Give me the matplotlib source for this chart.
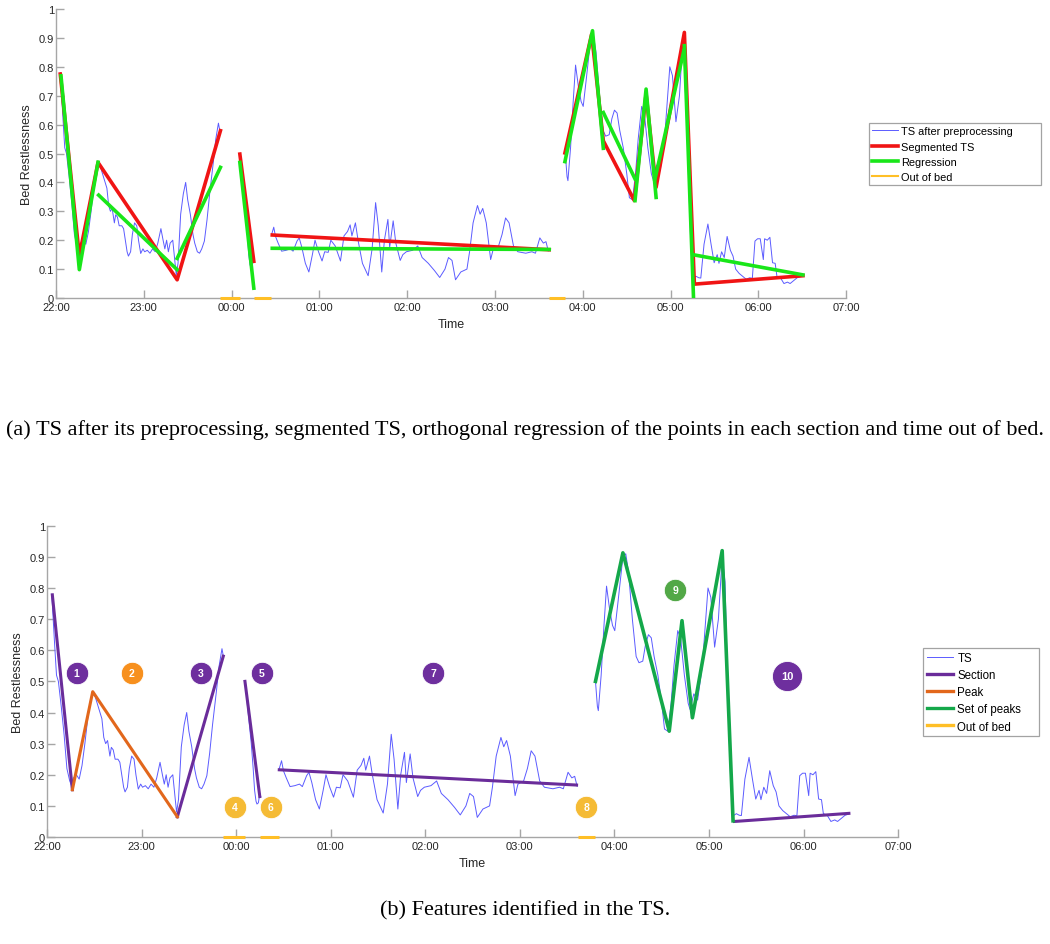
import numpy as np
import matplotlib
matplotlib.use("Agg")
import matplotlib.pyplot as plt
from matplotlib.lines import Line2D

plt.rcParams['font.family'] = ['Liberation Sans', 'DejaVu Sans']

# time axis: hours after 22:00
hour_ticks = [0, 1, 2, 3, 4, 5, 6, 7, 8, 9]
hour_labels = ['22:00', '23:00', '00:00', '01:00', '02:00', '03:00', '04:00', '05:00', '06:00', '07:00']
y_ticks = [0, 0.1, 0.2, 0.3, 0.4, 0.5, 0.6, 0.7, 0.8, 0.9, 1]
y_labels = ['0', '0.1', '0.2', '0.3', '0.4', '0.5', '0.6', '0.7', '0.8', '0.9', '1']

# TS after preprocessing (4 pieces, gaps = out of bed)
ts1_t = [0.05, 0.08, 0.10, 0.12, 0.15, 0.18, 0.21, 0.24, 0.26, 0.28, 0.31, 0.34, 0.37, 0.40, 0.43, 0.46,
         0.48, 0.51, 0.54, 0.58, 0.60, 0.62, 0.64, 0.665, 0.68, 0.70, 0.72, 0.75, 0.77, 0.79, 0.81, 0.825,
         0.85, 0.87, 0.895, 0.92, 0.94, 0.965, 0.99, 1.01, 1.04, 1.07, 1.10, 1.13, 1.16, 1.195, 1.22, 1.24,
         1.26, 1.28, 1.30, 1.33, 1.353, 1.37, 1.39, 1.42, 1.45, 1.477, 1.50, 1.53, 1.56, 1.58, 1.61, 1.635,
         1.66, 1.69, 1.72, 1.75, 1.79, 1.82, 1.85, 1.865]
ts1_v = [0.78, 0.62, 0.52, 0.50, 0.42, 0.33, 0.22, 0.18, 0.165, 0.19, 0.20, 0.186, 0.23, 0.30, 0.38, 0.44,
         0.466, 0.45, 0.42, 0.38, 0.32, 0.30, 0.31, 0.26, 0.288, 0.28, 0.25, 0.25, 0.24, 0.20, 0.16, 0.145,
         0.16, 0.22, 0.26, 0.25, 0.20, 0.154, 0.17, 0.16, 0.165, 0.155, 0.17, 0.16, 0.19, 0.24, 0.20, 0.17,
         0.20, 0.16, 0.19, 0.20, 0.13, 0.08, 0.12, 0.29, 0.36, 0.40, 0.34, 0.29, 0.22, 0.19, 0.16, 0.155,
         0.17, 0.197, 0.27, 0.36, 0.465, 0.55, 0.605, 0.58]
ts2_t = [2.10, 2.12, 2.14, 2.16, 2.18, 2.195, 2.21, 2.22, 2.235, 2.25, 2.26]
ts2_v = [0.49, 0.42, 0.36, 0.30, 0.22, 0.15, 0.115, 0.106, 0.11, 0.14, 0.13]
ts3_t = [2.456, 2.48, 2.50, 2.53, 2.57, 2.62, 2.67, 2.70, 2.745, 2.77, 2.80, 2.84, 2.88, 2.92, 2.95, 2.99,
         3.03, 3.06, 3.10, 3.13, 3.18, 3.24, 3.28, 3.32, 3.35, 3.37, 3.41, 3.44, 3.49, 3.555, 3.60, 3.64,
         3.67, 3.71, 3.74, 3.78, 3.80, 3.84, 3.87, 3.92, 3.95, 3.99, 4.06, 4.12, 4.17, 4.24, 4.31, 4.37,
         4.43, 4.47, 4.51, 4.55, 4.61, 4.68, 4.71, 4.75, 4.80, 4.83, 4.86, 4.90, 4.95, 4.98, 5.04, 5.08,
         5.12, 5.16, 5.21, 5.26, 5.35, 5.42, 5.46, 5.51, 5.55, 5.58, 5.606]
ts3_v = [0.22, 0.245, 0.213, 0.19, 0.162, 0.165, 0.17, 0.162, 0.197, 0.208, 0.175, 0.12, 0.09, 0.15, 0.20, 0.16,
         0.128, 0.16, 0.158, 0.20, 0.18, 0.128, 0.215, 0.23, 0.253, 0.215, 0.26, 0.20, 0.12, 0.077, 0.17, 0.33,
         0.25, 0.09, 0.20, 0.272, 0.175, 0.267, 0.19, 0.13, 0.15, 0.16, 0.165, 0.18, 0.14, 0.12, 0.095, 0.071,
         0.10, 0.14, 0.13, 0.063, 0.09, 0.10, 0.16, 0.26, 0.32, 0.29, 0.31, 0.26, 0.133, 0.17, 0.18, 0.22,
         0.277, 0.26, 0.18, 0.16, 0.155, 0.16, 0.155, 0.208, 0.19, 0.195, 0.163]
ts4_t = [5.80, 5.82, 5.83, 5.86, 5.89, 5.917, 5.95, 5.98, 6.004, 6.04, 6.09, 6.12, 6.15, 6.19, 6.23, 6.26,
         6.30, 6.33, 6.36, 6.39, 6.42, 6.46, 6.50, 6.53, 6.565, 6.60, 6.63, 6.67, 6.70, 6.74, 6.78, 6.80,
         6.84, 6.88, 6.93, 6.99, 7.02, 7.06, 7.10, 7.14, 7.17, 7.20, 7.23, 7.255, 7.29, 7.32, 7.343, 7.38,
         7.424, 7.46, 7.495, 7.53, 7.55, 7.58, 7.61, 7.643, 7.68, 7.71, 7.74, 7.78, 7.82, 7.86, 7.90, 7.93,
         7.96, 7.99, 8.02, 8.055, 8.07, 8.10, 8.13, 8.16, 8.19, 8.21, 8.25, 8.29, 8.33, 8.36, 8.40, 8.44, 8.48]
ts4_v = [0.50, 0.42, 0.406, 0.52, 0.68, 0.806, 0.73, 0.68, 0.663, 0.76, 0.90, 0.91, 0.85, 0.70, 0.58, 0.56,
         0.565, 0.62, 0.65, 0.64, 0.58, 0.52, 0.43, 0.347, 0.34, 0.43, 0.55, 0.663, 0.64, 0.52, 0.43, 0.41,
         0.46, 0.44, 0.55, 0.80, 0.77, 0.61, 0.70, 0.90, 0.82, 0.45, 0.18, 0.068, 0.075, 0.07, 0.069, 0.186,
         0.256, 0.186, 0.122, 0.15, 0.12, 0.16, 0.14, 0.213, 0.165, 0.145, 0.10, 0.085, 0.075, 0.065, 0.07, 0.068,
         0.197, 0.205, 0.205, 0.133, 0.205, 0.20, 0.21, 0.122, 0.12, 0.075, 0.07, 0.05, 0.055, 0.05, 0.06, 0.07, 0.074]
ts_t = [ts1_t, ts2_t, ts3_t, ts4_t]
ts_v = [ts1_v, ts2_v, ts3_v, ts4_v]

# out of bed intervals (start, end) in hours
oob_start = [1.865, 2.255, 5.62]
oob_end = [2.095, 2.45, 5.80]

# (a) segmented TS, one polyline per section
seg_t = [[0.049, 0.266, 0.479, 1.38, 1.873], [2.094, 2.253], [2.463, 5.617],
         [5.796, 6.10, 6.233, 6.586, 6.72, 6.834, 7.156, 7.27, 8.506]]
seg_v = [[0.775, 0.146, 0.469, 0.063, 0.579], [0.498, 0.127], [0.218, 0.167],
         [0.502, 0.913, 0.544, 0.337, 0.706, 0.383, 0.919, 0.048, 0.077]]

# (a) orthogonal regression of each piece
reg_t = [[0.057, 0.266, 0.479], [0.486, 1.38], [1.38, 1.873], [2.094, 2.253], [2.463, 5.617],
         [5.796, 6.11, 6.233], [6.233, 6.594], [6.594, 6.72, 6.834], [6.82, 7.15], [7.156, 7.26], [7.27, 8.506]]
reg_v = [[0.769, 0.098, 0.47], [0.356, 0.098], [0.137, 0.452], [0.469, 0.034], [0.172, 0.168],
         [0.472, 0.925, 0.518], [0.642, 0.412], [0.337, 0.723, 0.348], [0.41, 0.856], [0.873, 0.002], [0.149, 0.08]]

# (b) features
sec_t = [[0.056, 0.268], [1.378, 1.864], [2.093, 2.25], [2.456, 5.60], [7.27, 8.48]]
sec_v = [[0.778, 0.152], [0.065, 0.581], [0.50, 0.13], [0.216, 0.167], [0.05, 0.076]]
peak_t = [0.268, 0.483, 1.378]
peak_v = [0.152, 0.467, 0.065]
peaks_t = [5.80, 6.09, 6.58, 6.715, 6.825, 7.14, 7.255]
peaks_v = [0.50, 0.913, 0.34, 0.695, 0.383, 0.92, 0.052]

badge_text = ['1', '2', '3', '4', '5', '6', '7', '8', '9', '10']
badge_t = [0.314, 0.895, 1.628, 1.987, 2.27, 2.364, 4.084, 5.705, 6.645, 7.83]
badge_v = [0.527, 0.527, 0.527, 0.095, 0.527, 0.095, 0.527, 0.097, 0.794, 0.516]
badge_kind = ['section', 'peak', 'section', 'oob', 'section', 'oob', 'section', 'oob', 'peaks', 'section']

c_ts = '#5b5bff'
c_red = '#f01414'
c_lime = '#19e619'
c_oob = '#ffbf26'
c_sec = '#6a2c9a'
c_peak = '#e2671c'
c_peaks = '#14a84a'
badge_col = {'section': '#6e2f9e', 'peak': '#f7901e', 'oob': '#f5bb35', 'peaks': '#52a847'}

fig = plt.figure(figsize=(10.5, 9.45), dpi=100)
ax1 = fig.add_axes([0.0533, 0.6836, 0.7527, 0.3058])
ax2 = fig.add_axes([0.0448, 0.1132, 0.8105, 0.3294])


def style_axis(ax):
    ax.set_xlim(0, 9)
    ax.set_ylim(0, 1)
    ax.set_xticks(hour_ticks)
    ax.set_xticklabels(hour_labels)
    ax.set_yticks(y_ticks)
    ax.set_yticklabels(y_labels)
    for s in ['top', 'right']:
        ax.spines[s].set_visible(False)
    for s in ['left', 'bottom']:
        ax.spines[s].set_color('#a6a6a6')
        ax.spines[s].set_linewidth(1.0)
    ax.tick_params(direction='in', length=5.5, width=1.0, color='#a6a6a6',
                   labelsize=8, labelcolor='#262626', pad=3)
    ax.tick_params(axis='y', pad=1.5)
    ax.set_xlabel('Time', fontsize=9, color='#262626', labelpad=4)
    ax.set_ylabel('Bed Restlessness', fontsize=9, color='#262626', labelpad=4)


def draw_ts(ax):
    for t, v in zip(ts_t, ts_v):
        ax.plot(t, v, color=c_ts, lw=0.7, zorder=2)


def draw_oob(ax):
    for a, b in zip(oob_start, oob_end):
        ax.plot([a, b], [0, 0], color=c_oob, lw=2.2, zorder=6, clip_on=False, solid_capstyle='butt')


# ---- (a)
style_axis(ax1)
draw_ts(ax1)
for t, v in zip(seg_t, seg_v):
    ax1.plot(t, v, color=c_red, lw=2.6, zorder=3)
for t, v in zip(reg_t, reg_v):
    ax1.plot(t, v, color=c_lime, lw=2.6, zorder=4)
draw_oob(ax1)

h1 = [Line2D([], [], color=c_ts, lw=0.7), Line2D([], [], color=c_red, lw=2.6),
      Line2D([], [], color=c_lime, lw=2.6), Line2D([], [], color=c_oob, lw=1.5)]
leg1 = fig.legend(h1, ['TS after preprocessing', 'Segmented TS', 'Regression', 'Out of bed'],
                  loc='upper left', bbox_to_anchor=(0.8276, 0.8035, 0.1638, 0.0653), mode='expand',
                  fontsize=7.9, frameon=True, fancybox=False, edgecolor='#8c8c8c', handlelength=2.3,
                  handletextpad=0.35, labelspacing=0.48, borderpad=0.3, borderaxespad=0)
leg1.get_frame().set_linewidth(0.9)

# ---- (b)
style_axis(ax2)
draw_ts(ax2)
for t, v in zip(sec_t, sec_v):
    ax2.plot(t, v, color=c_sec, lw=2.2, zorder=3)
ax2.plot(peak_t, peak_v, color=c_peak, lw=2.2, zorder=3)
ax2.plot(peaks_t, peaks_v, color=c_peaks, lw=2.6, zorder=3)
draw_oob(ax2)

for txt, t, v, k in zip(badge_text, badge_t, badge_v, badge_kind):
    size = 470 if len(txt) > 1 else 260
    ax2.scatter([t], [v], s=size, color=badge_col[k], edgecolors='white', linewidths=0.6, zorder=7)
    ax2.text(t, v, txt, color='white', fontsize=8 if len(txt) > 1 else 7.5, fontweight='bold',
             ha='center', va='center', zorder=8)

h2 = [Line2D([], [], color=c_ts, lw=0.7), Line2D([], [], color=c_sec, lw=2.4),
      Line2D([], [], color=c_peak, lw=2.4), Line2D([], [], color=c_peaks, lw=2.4),
      Line2D([], [], color=c_oob, lw=2.4)]
leg2 = fig.legend(h2, ['TS', 'Section', 'Peak', 'Set of peaks', 'Out of bed'],
                  loc='upper left', bbox_to_anchor=(0.8794, 0.224, 0.1104, 0.0889), mode='expand',
                  fontsize=8.3, frameon=True, fancybox=False, edgecolor='#8c8c8c', handlelength=2.3,
                  handletextpad=0.35, labelspacing=0.45, borderpad=0.3, borderaxespad=0)
leg2.get_frame().set_linewidth(0.9)

# captions
fig.text(0.5, 1 - 430 / 945,
         '(a) TS after its preprocessing, segmented TS, orthogonal regression of the points in each section and time out of bed.',
         ha='center', va='center', fontsize=16, family='Liberation Serif')
fig.text(0.5, 1 - 911 / 945, '(b) Features identified in the TS.',
         ha='center', va='center', fontsize=16, family='Liberation Serif')

fig.savefig('out.png', dpi=100)
